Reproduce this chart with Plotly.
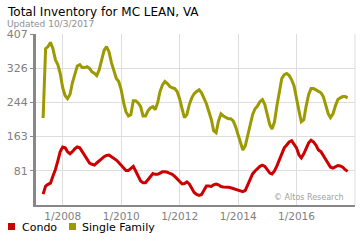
import pandas as pd
import plotly.graph_objects as go

# ---- data (monthly, May 2007 - Oct 2017) ----
dates = pd.date_range("2007-05-01", periods=126, freq="MS")

single_family = [
    207, 372, 377, 387, 372, 346, 334, 313,
    279, 260, 253, 263, 291, 315, 331, 334, 327, 327, 329, 325,
    317, 313, 308, 322, 346, 368, 377, 365, 339, 317, 301, 294,
    274, 243, 222, 212, 215, 248, 248, 243, 234, 212, 212, 224,
    231, 234, 227, 243, 270, 286, 294, 289, 282, 279, 277, 270,
    253, 229, 208, 215, 239, 255, 265, 270, 274, 267, 255, 241,
    222, 203, 177, 172, 200, 217, 212, 208, 205, 205, 200, 186,
    165, 146, 131, 141, 167, 189, 215, 229, 236, 246, 251, 239,
    212, 191, 181, 198, 236, 274, 301, 310, 313, 308, 298, 284,
    258, 224, 198, 203, 236, 263, 277, 277, 274, 270, 267, 258,
    239, 217, 208, 217, 236, 251, 255, 258, 258, 255,
]

condo = [
    26, 45, 49, 52, 69, 84, 105, 127,
    138, 136, 127, 122, 127, 134, 138, 136, 127, 119, 110, 100,
    97, 95, 100, 105, 111, 115, 118, 119, 115, 112, 107, 101,
    95, 88, 82, 82, 87, 92, 81, 67, 57, 53, 53, 60,
    69, 75, 73, 73, 76, 79, 79, 78, 75, 73, 68, 62,
    56, 50, 51, 55, 50, 39, 30, 25, 23, 25, 36, 45,
    45, 44, 48, 50, 48, 44, 43, 43, 42, 41, 39, 38,
    36, 33, 32, 35, 48, 64, 74, 81, 87, 92, 95, 92,
    84, 76, 74, 81, 93, 107, 124, 136, 143, 150, 153, 146,
    136, 119, 112, 122, 136, 148, 154, 150, 142, 131, 127, 117,
    107, 97, 90, 88, 91, 94, 93, 90, 84, 80,
]

y_tickvals = [81.4, 162.8, 244.2, 325.6, 407]
y_ticktext = ["81", "163", "244", "326", "407"]
x_tickvals = ["2008-01-01", "2010-01-01", "2012-01-01", "2014-01-01", "2016-01-01", "2018-01-01"]
x_ticktext = ["1/2008", "1/2010", "1/2012", "1/2014", "1/2016", ""]

series_names = ["Condo", "Single Family"]
series_colors = ["#cc0000", "#9c9a00"]

W, H = 360, 240
ML, MR, MT, MB = 36, 5, 34, 35

fig = go.Figure()
fig.add_trace(go.Scatter(x=dates, y=single_family, mode="lines", name="Single Family",
                         line=dict(color=series_colors[1], width=3), showlegend=False))
fig.add_trace(go.Scatter(x=dates, y=condo, mode="lines", name="Condo",
                         line=dict(color=series_colors[0], width=3), showlegend=False))

font = "DejaVu Sans"

fig.update_layout(
    width=W, height=H,
    margin=dict(l=ML, r=MR, t=MT, b=MB),
    paper_bgcolor="white", plot_bgcolor="white",
    font=dict(family=font, size=11, color="#808080"),
    xaxis=dict(type="date", range=["2007-02-01", "2018-01-01"],
               tickvals=x_tickvals, ticktext=x_ticktext,
               showgrid=True, gridcolor="#dddddd", gridwidth=1,
               showline=True, linecolor="#888888", linewidth=2,
               ticks="", tickfont=dict(size=10.5, color="#808080"), zeroline=False),
    yaxis=dict(range=[0, 407], tickvals=y_tickvals, ticktext=y_ticktext,
               showgrid=True, gridcolor="#dddddd", gridwidth=1,
               showline=True, linecolor="#888888", linewidth=3,
               ticks="outside", ticklen=3, tickcolor="#888888",
               tickfont=dict(size=11, color="#808080"), zeroline=False),
    showlegend=False,
)

# right border (light)
fig.add_shape(type="line", xref="paper", yref="paper", x0=1, x1=1, y0=0, y1=1,
              line=dict(color="#dddddd", width=1))


def paper_x(xp):
    return (xp - ML) / (W - ML - MR)


def paper_y(yp):
    return (H - MB - yp) / (H - MT - MB)


annotations = [
    dict(text="Total Inventory for MC LEAN, VA", x=paper_x(6), y=paper_y(11.5), xanchor="left",
         yanchor="middle", font=dict(size=12, color="#000")),
    dict(text="Updated 10/3/2017", x=paper_x(6), y=paper_y(24), xanchor="left", yanchor="middle",
         font=dict(size=9, color="#909090")),
    dict(text="© Altos Research", x=paper_x(345), y=paper_y(203), xanchor="right", yanchor="bottom",
         font=dict(size=8, color="#a0a0a0")),
    dict(text=series_names[0], x=paper_x(21), y=paper_y(227), xanchor="left", yanchor="middle",
         font=dict(size=11, color="#000")),
    dict(text=series_names[1], x=paper_x(81), y=paper_y(227), xanchor="left", yanchor="middle",
         font=dict(size=11, color="#000")),
]
fig.update_layout(annotations=[dict(**a, xref="paper", yref="paper", showarrow=False,
                                    borderpad=0) for a in annotations])

for cx, col in [(11.5, series_colors[0]), (72.5, series_colors[1])]:
    fig.add_shape(type="rect", xref="paper", yref="paper",
                  x0=paper_x(cx - 3.5), x1=paper_x(cx + 3.5),
                  y0=paper_y(226.5 + 3.5), y1=paper_y(226.5 - 3.5),
                  fillcolor=col, line=dict(width=0))

fig.write_html("out.html")
